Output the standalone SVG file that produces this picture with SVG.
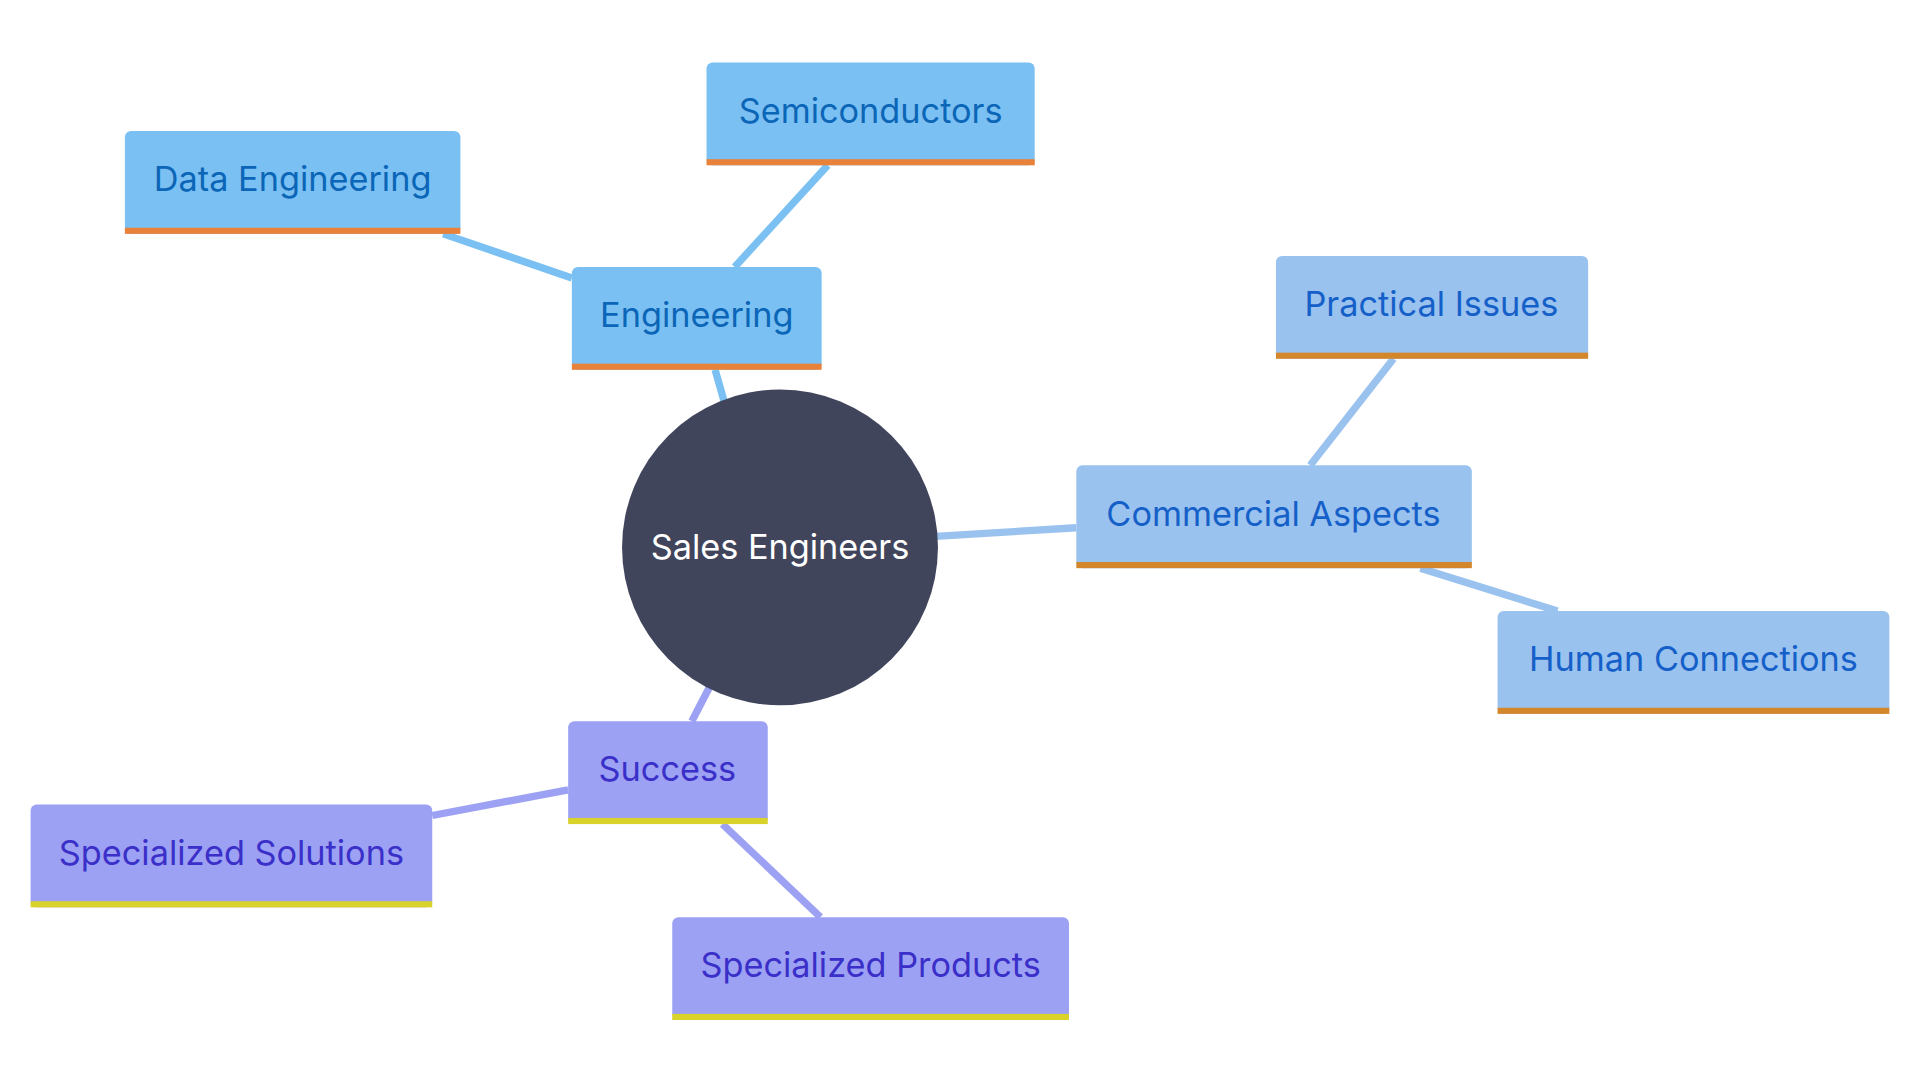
<svg xmlns="http://www.w3.org/2000/svg" width="1920" height="1080" viewBox="0 0 1920 1080">
<style>
.t{font-family:Inter,"Open Sans","Liberation Sans",sans-serif;font-size:28px;text-anchor:middle;dominant-baseline:central}
.e{fill:#7bc0f2}.e2{fill:#e8823a}.et{fill:#0b66b8}
.c{fill:#9ac2ef}.c2{fill:#d4862a}.ct{fill:#1560c8}
.s{fill:#9ca1f3}.s2{fill:#d8d22a}.st{fill:#3a2fc8}
.l{stroke-width:6;fill:none}
</style>
<rect width="1920" height="1080" fill="#fff"/>
<g transform="scale(1.22449)">
<g id="connectors">
<line class="l" stroke="#7bc0f2" x1="592" y1="330" x2="584" y2="302"/>
<line class="l" stroke="#7bc0f2" x1="600" y1="218" x2="676" y2="135"/>
<line class="l" stroke="#7bc0f2" x1="362" y1="191" x2="467" y2="227"/>
<line class="l" stroke="#9ac2ef" x1="764" y1="438" x2="879" y2="431"/>
<line class="l" stroke="#9ac2ef" x1="1070" y1="380" x2="1138" y2="293"/>
<line class="l" stroke="#9ac2ef" x1="1160" y1="464" x2="1272" y2="499"/>
<line class="l" stroke="#9ca1f3" x1="580" y1="560" x2="565" y2="589"/>
<line class="l" stroke="#9ca1f3" x1="353" y1="666" x2="464" y2="645"/>
<line class="l" stroke="#9ca1f3" x1="590" y1="673" x2="670" y2="749"/>
</g>
<g id="center"><circle cx="637" cy="447" r="129" fill="#41455c"/><text class="t" x="637" y="446" fill="#fff">Sales Engineers</text></g>
<g id="semiconductors"><rect class="e" x="577" y="51" width="268" height="84" rx="5"/><rect class="e2" x="577" y="130" width="268" height="5"/><text class="t et" x="711" y="90">Semiconductors</text></g>
<g id="data-engineering"><rect class="e" x="102" y="107" width="274" height="84" rx="5"/><rect class="e2" x="102" y="186" width="274" height="5"/><text class="t et" x="239" y="146">Data Engineering</text></g>
<g id="engineering"><rect class="e" x="467" y="218" width="204" height="84" rx="5"/><rect class="e2" x="467" y="297" width="204" height="5"/><text class="t et" x="569" y="257">Engineering</text></g>
<g id="practical-issues"><rect class="c" x="1042" y="209" width="255" height="84" rx="5"/><rect class="c2" x="1042" y="288" width="255" height="5"/><text class="t ct" x="1169" y="248">Practical Issues</text></g>
<g id="commercial-aspects"><rect class="c" x="879" y="380" width="323" height="84" rx="5"/><rect class="c2" x="879" y="459" width="323" height="5"/><text class="t ct" x="1040" y="419">Commercial Aspects</text></g>
<g id="human-connections"><rect class="c" x="1223" y="499" width="320" height="84" rx="5"/><rect class="c2" x="1223" y="578" width="320" height="5"/><text class="t ct" x="1383" y="538">Human Connections</text></g>
<g id="success"><rect class="s" x="464" y="589" width="163" height="84" rx="5"/><rect class="s2" x="464" y="668" width="163" height="5"/><text class="t st" x="545" y="628">Success</text></g>
<g id="specialized-solutions"><rect class="s" x="25" y="657" width="328" height="84" rx="5"/><rect class="s2" x="25" y="736" width="328" height="5"/><text class="t st" x="189" y="696">Specialized Solutions</text></g>
<g id="specialized-products"><rect class="s" x="549" y="749" width="324" height="84" rx="5"/><rect class="s2" x="549" y="828" width="324" height="5"/><text class="t st" x="711" y="788">Specialized Products</text></g>
</g>
</svg>
